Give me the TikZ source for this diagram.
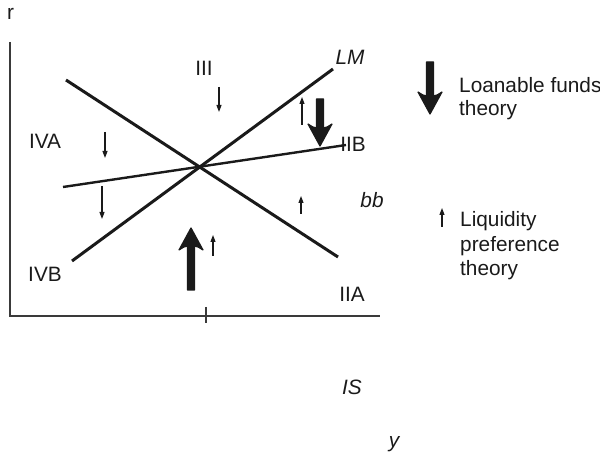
\documentclass[tikz,border=0pt]{standalone}
\usepackage{fontspec}
\setmainfont{Liberation Sans}
\usetikzlibrary{arrows.meta}
\definecolor{ink}{HTML}{1A1A1A}
\definecolor{axisgray}{HTML}{3A3A3A}
\tikzset{
  lbl/.style={inner sep=0pt, anchor=base, text=ink, font=\fontsize{20.8}{25}\selectfont},
  lblit/.style={lbl, font=\fontsize{20.8}{25}\selectfont\itshape},
  leg/.style={lbl, anchor=base west},
  curve/.style={line width=3pt, draw=ink},
  axisline/.style={line width=1.5pt, draw=axisgray},
  smallarrow/.style={line width=1.1pt, draw=ink, -{Triangle[length=7pt,width=5pt]}},
  pics/bigarrow/.style={code={
    \filldraw[fill=ink, draw=ink, line width=1.2pt, line join=round]
      (0,0) -- (12,22) .. controls (8,19.5) and (6,18) .. (3.5,18) -- (3.5,#1)
      -- (-3.5,#1) -- (-3.5,18) .. controls (-6,18) and (-8,19.5) .. (-12,22) -- cycle;
  }}
}
\begin{document}
\begin{tikzpicture}[x=1pt, y=-1pt]
\useasboundingbox (0,0) rectangle (600,454);

% axes
\coordinate (axtop) at (10,42);
\coordinate (origin) at (10,316);
\coordinate (axright) at (380,316);
\draw[axisline] (axtop) -- (origin) -- (axright);
\coordinate (ticktop) at (206,307);
\coordinate (tickbot) at (206,323);
\draw[axisline] (ticktop) -- (tickbot);

% curves
\coordinate (isA) at (66,80);
\coordinate (isB) at (338,257);
\coordinate (lmA) at (72,261);
\coordinate (lmB) at (333,69);
\coordinate (bbA) at (63,187);
\coordinate (bbB) at (346,145);
\draw[curve] (isA) -- (isB);
\draw[curve] (lmA) -- (lmB);
\draw[curve, line width=2.4pt] (bbA) -- (bbB);

% labels
\node[lbl, anchor=base west] (r) at (7,20) {r};
\node[lbl] (III) at (204,76) {III};
\node[lbl] (IVA) at (45,149) {IVA};
\node[lbl] (IVB) at (45,282) {IVB};
\node[lbl] (IIA) at (352,302) {IIA};
\node[lbl] (IIB) at (353,152) {IIB};
\node[lblit] (LM) at (350,65) {LM};
\node[lblit] (bb) at (372,208) {bb};
\node[lblit] (IS) at (352,395) {IS};
\node[lblit] (y) at (394,447) {y};

% small arrows
\coordinate (s1a) at (219,87);  \coordinate (s1b) at (219,112);
\coordinate (s2a) at (105,132); \coordinate (s2b) at (105,158);
\coordinate (s3a) at (102,186); \coordinate (s3b) at (102,219);
\coordinate (s4a) at (302,125); \coordinate (s4b) at (302,97);
\coordinate (s5a) at (301,214); \coordinate (s5b) at (301,196);
\coordinate (s6a) at (213,256); \coordinate (s6b) at (213,235);
\draw[smallarrow] (s1a) -- (s1b);
\draw[smallarrow] (s2a) -- (s2b);
\draw[smallarrow] (s3a) -- (s3b);
\draw[smallarrow] (s4a) -- (s4b);
\draw[smallarrow] (s5a) -- (s5b);
\draw[smallarrow] (s6a) -- (s6b);

% big arrows
\pic at (191,228) {bigarrow=62};
\pic[yscale=-1] at (320,146) {bigarrow=47};

% legend
\pic[yscale=-1] at (430,114) {bigarrow=52};
\node[leg] (lf1) at (459,93) {Loanable funds};
\node[leg] (lf2) at (459,116) {theory};
\coordinate (l2a) at (442,227); \coordinate (l2b) at (442,208);
\draw[smallarrow] (l2a) -- (l2b);
\node[leg] (lp1) at (460,227) {Liquidity};
\node[leg] (lp2) at (460,252) {preference};
\node[leg] (lp3) at (460,276) {theory};
\end{tikzpicture}
\end{document}
